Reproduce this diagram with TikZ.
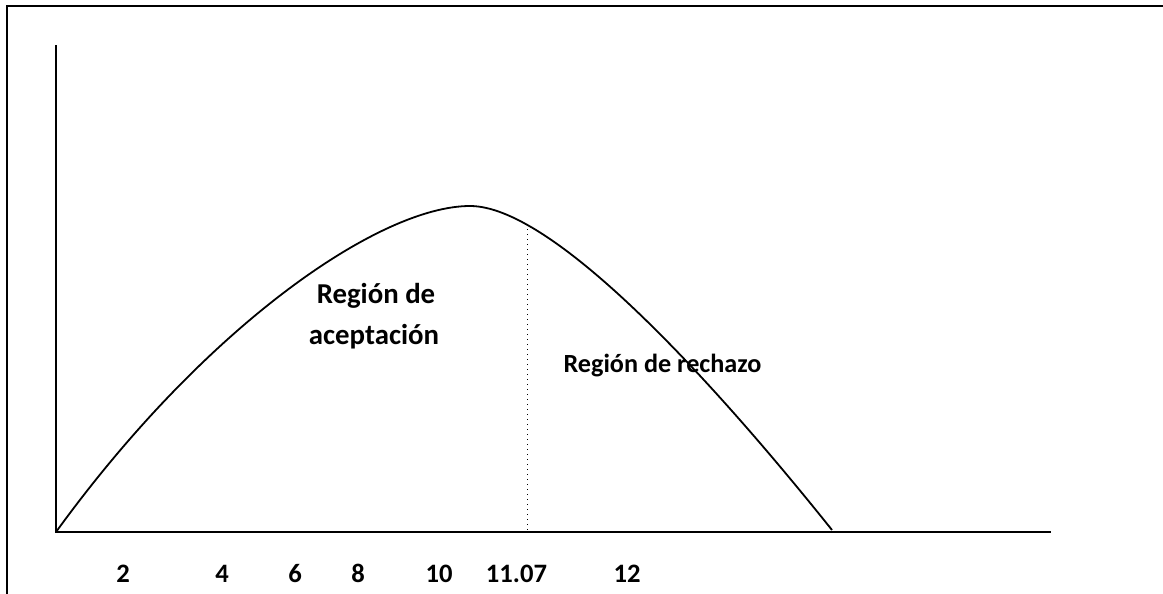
\documentclass[tikz,border=0pt]{standalone}
\usepackage{fontspec}
\setmainfont{Carlito}
\begin{document}
\begin{tikzpicture}[x=0.5pt,y=-0.5pt,
  frame/.style={line width=1pt, line cap=rect},
  axis/.style={line width=1pt},
  curve/.style={line width=0.9pt},
  critline/.style={line width=0.5pt, dotted},
  num/.style={font=\bfseries\fontsize{13.3}{16}\selectfont, anchor=base, inner sep=0pt},
  region/.style={font=\bfseries\fontsize{14.4}{17}\selectfont, anchor=base, inner sep=0pt},
  regsmall/.style={font=\bfseries\fontsize{13.1}{16}\selectfont, anchor=base, inner sep=0pt}]
\useasboundingbox (0,0) rectangle (1163,594);
% frame (top and left only)
\draw[frame] (7,600) -- (7,6) -- (1170,6);
% axes
\coordinate (O) at (56,532);
\coordinate (ytop) at (56,45);
\coordinate (xend) at (1051,532);
\draw[axis] (ytop) -- (O) -- (xend);
% curve
\coordinate (peak) at (470,206);
\coordinate (tail) at (832,530);
\coordinate (crit) at (527,224);
\coordinate (critfoot) at (527,532);
\draw[curve] (O) .. controls (206,325) and (380,206) .. (peak)
  .. controls (550,206) and (702,367.5) .. (tail);
\draw[critline] (crit) -- (critfoot);
% region labels
\node[region] (acc1) at (376,303) {Región de};
\node[region] (acc2) at (374,344) {aceptación};
\node[regsmall] (rej) at (662.5,372) {Región de rechazo};
% axis numbers
\node[num] (n2) at (123,582) {2};
\node[num] (n4) at (222,582) {4};
\node[num] (n6) at (295,582) {6};
\node[num] (n8) at (358,582) {8};
\node[num] (n10) at (439,582) {10};
\node[num] (n1107) at (516.5,582) {11.07};
\node[num] (n12) at (627,582) {12};
\end{tikzpicture}
\end{document}
